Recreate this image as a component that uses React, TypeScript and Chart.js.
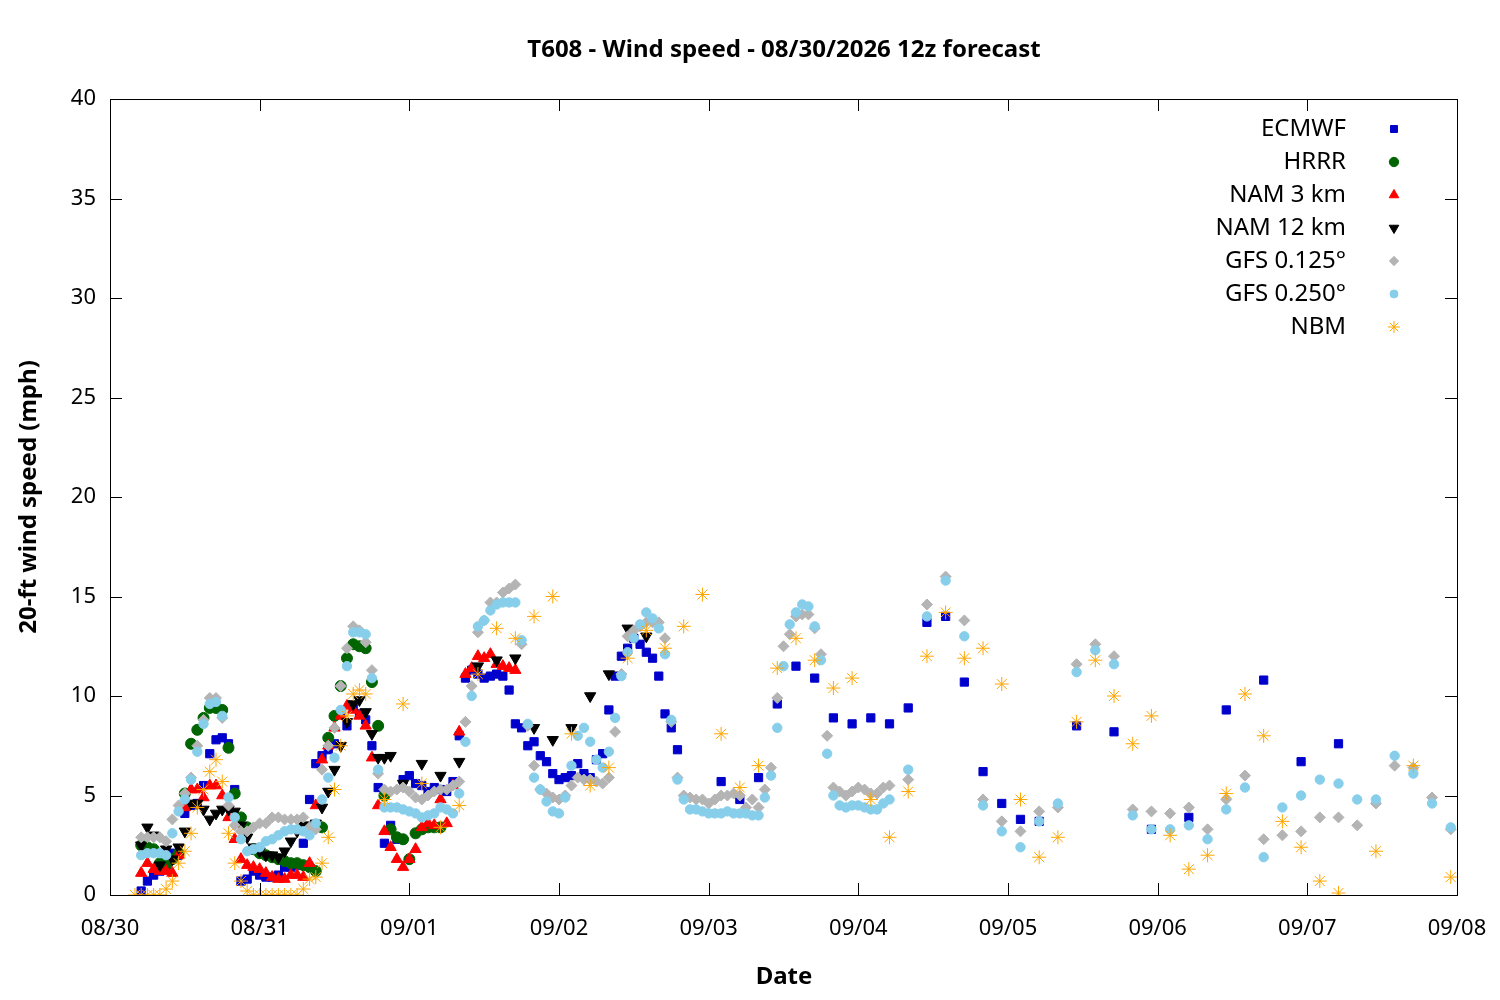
import React, { useEffect, useRef } from "react";
import { Chart, registerables } from "chart.js";
import { drawPoint } from "chart.js/helpers";
Chart.register(...registerables);

const dateLabels = ["08/30", "08/31", "09/01", "09/02", "09/03", "09/04", "09/05", "09/06", "09/07", "09/08"];
const yTicks = [0, 5, 10, 15, 20, 25, 30, 35, 40];

// hours since 08/30 00 for each segment start; values hourly / 3-hourly / 6-hourly
const ecmwfHourly = [0.2,0.7,1.0,1.2,1.5,2.1,2.0,4.1,4.5,4.6,5.5,7.1,7.8,7.9,7.6,5.3,0.7,0.8,1.2,1.0,0.9,0.9,1.0,1.4,1.4,1.5,2.6,4.8,6.6,7.0,7.3,7.6,9.1,8.5,9.4,9.1,8.8,7.5,5.4,2.6,3.5,2.8,5.8,6.0,5.6,5.5,5.2,5.4,5.3,5.2,5.7,8.0,10.9,11.3,11.1,10.9,11.0,11.1,11.0,10.3,8.6,8.4,7.5,7.7,7.0,6.7,6.1,5.8,5.9,6.0,6.6,6.1,5.9,6.8,7.1,9.3,11.0,12.0,12.4,12.9,12.6,12.2,11.9,11.0,9.1,8.4,7.3];
const ecmwf3h = [5.7,4.8,5.9,9.6,11.5,10.9,8.9,8.6,8.9,8.6,9.4,13.7,14.0,10.7,6.2,4.6,3.8,3.7];
const ecmwf6h = [8.5,8.2,3.3,3.9,9.3,10.8,6.7,7.6];

const hrrrHourly = [2.5,2.4,2.3,1.6,1.5,1.8,2.1,5.1,7.6,8.3,8.9,9.4,9.4,9.3,7.4,5.1,3.9,3.4,2.3,2.1,2.0,1.9,1.8,1.7,1.6,1.6,1.5,1.4,1.2,3.4,7.9,9.0,10.5,11.9,12.6,12.5,12.4,10.7,8.5,5.0,3.3,2.9,2.8,1.8,3.1,3.3,3.4,3.4,3.4];

const nam3Hourly = [1.1,1.6,1.3,1.2,1.2,1.1,2.0,4.4,5.3,5.3,4.9,5.5,5.5,5.0,3.9,2.8,1.8,1.5,1.4,1.3,1.1,0.9,0.8,0.8,1.0,1.0,0.9,1.6,4.5,6.8,7.5,8.4,9.0,9.5,9.3,9.0,8.5,6.9,4.5,3.2,2.4,1.8,1.4,1.8,2.3,3.4,3.6,3.5,4.8,3.6,5.5,8.2,11.1,11.4,12.0,11.9,12.1,11.6,11.5,11.4,11.3];

const nam12Hourly = [2.5,3.4,3.0,1.5,2.3,1.8,2.4,3.2,4.6,4.6,4.3,3.8,4.1,4.3,4.3,4.2,3.5,2.9,2.4,2.2,2.0,2.0,1.9,2.2,2.7,3.2,3.5,3.5,3.6,4.4,5.2,6.3,7.5,8.7,9.6,9.8,9.2,8.1,6.9,6.9,7.0];
const nam12_3h = [5.6,6.6,6.0,6.7,11.5,11.8,11.9,8.4,7.8,8.4,10.0,11.1,13.4,13.0];

const gfs125Hourly = [2.9,2.9,2.9,2.9,2.7,3.8,4.5,5.1,5.9,7.5,8.8,9.9,9.9,8.9,4.5,3.5,3.2,3.2,3.4,3.6,3.6,3.9,3.9,3.8,3.8,3.8,3.9,3.4,3.3,6.3,7.5,8.4,10.5,12.4,13.5,13.3,12.7,11.3,6.1,5.3,5.2,5.3,5.4,5.2,4.9,4.8,5.0,5.2,5.3,5.3,5.5,5.7,8.7,10.5,13.2,13.8,14.7,14.7,15.2,15.4,15.6,12.6,8.5,6.5,5.3,5.1,4.9,4.8,5.0,5.5,5.9,5.8,5.8,5.7,5.6,5.9,8.2,11.1,13.0,13.3,13.5,13.7,13.7,13.7,12.9,8.7,5.9,5.0,4.9,4.8,4.8,4.6,4.8,5.0,5.0,5.1,5.0,4.4,4.8,4.4,5.3,6.4,9.9,12.5,13.1,14.0,14.1,14.1,13.4,12.1,8.0,5.4,5.2,5.0,5.2,5.4,5.3,5.1,5.1,5.4,5.5];
const gfs125_3h = [5.8,14.6,16.0,13.8,4.8,3.7,3.2,4.2,4.4,11.6,12.6,12.0,4.3,4.2,4.1,4.4,3.3,4.8,6.0,2.8,3.0,3.2,3.9,3.9,3.5,4.6,6.5,6.4,4.9,3.3];

const gfs250Hourly = [2.0,2.1,2.1,2.1,2.0,3.1,4.2,4.8,5.8,7.2,8.6,9.6,9.7,9.0,4.9,3.9,2.8,2.2,2.3,2.4,2.7,2.8,3.0,3.2,3.3,3.3,3.2,3.0,3.6,4.8,5.9,6.9,9.3,11.5,13.2,13.2,13.1,10.9,6.3,4.4,4.4,4.4,4.3,4.2,4.1,3.9,4.0,4.1,4.4,4.3,4.1,5.1,7.7,10.0,13.5,13.8,14.3,14.6,14.7,14.7,14.7,12.8,8.6,5.9,5.3,4.7,4.2,4.1,4.9,6.5,8.0,8.4,7.7,6.8,6.4,7.2,8.9,11.0,12.2,12.9,13.6,14.2,13.9,13.4,12.1,8.8,5.8,4.8,4.3,4.3,4.2,4.1,4.1,4.1,4.2,4.1,4.1,4.1,4.0,4.0,4.9,6.0,8.4,11.5,13.6,14.2,14.6,14.5,13.5,11.8,7.1,5.0,4.5,4.4,4.5,4.5,4.4,4.3,4.3,4.6,4.8];
const gfs250_3h = [6.3,14.0,15.8,13.0,4.5,3.2,2.4,3.7,4.6,11.2,12.3,11.6,4.0,3.3,3.3,3.5,2.8,4.3,5.4,1.9,4.4,5.0,5.8,5.6,4.8,4.8,7.0,6.1,4.6,3.4];

const nbmHourly = [0,0,0,0,0,0.3,0.7,1.6,2.2,3.1,4.4,5.3,6.2,6.8,5.7,3.1,1.6,0.7,0.2,0,0,0,0,0,0,0,0,0.3,0.8,0.9,1.6,2.9,5.3,7.5,9.0,10.1,10.3,10.1];
const nbm3h = [4.8,9.6,5.6,3.4,4.5,11.1,13.4,12.9,14.0,15.0,8.1,5.5,6.4,11.9,13.3,12.4,13.5,15.1,8.1,5.4,6.5,11.4,12.9,11.8,10.4,10.9,4.8,2.9,5.2,12.0,14.2,11.9,12.4,10.6,4.8,1.9,2.9,8.7,11.8,10.0,7.6,9.0,3.0,1.3,2.0,5.1,10.1,8.0,3.7,2.4,0.7,0.1,null,2.2,null,6.5,null,0.9];

function seg(start: number, step: number, vals: (number | null)[]) {
  return vals.map((v, i) => ({ x: start + i * step, y: v }));
}

const series = [
  { label: "ECMWF", color: "#0000cc", style: "rect", r: 5.8, rot: 0,
    data: [...seg(5, 1, ecmwfHourly), ...seg(98, 3, ecmwf3h), ...seg(155, 6, ecmwf6h)] },
  { label: "HRRR", color: "#006400", style: "circle", r: 5.5, rot: 0, data: seg(5, 1, hrrrHourly) },
  { label: "NAM 3 km", color: "#ff0000", style: "triangle", r: 6.5, rot: 0, data: seg(5, 1, nam3Hourly) },
  { label: "NAM 12 km", color: "#000000", style: "triangle", r: 6.5, rot: 180,
    data: [...seg(5, 1, nam12Hourly), ...seg(47, 3, nam12_3h)] },
  { label: "GFS 0.125°", color: "#b4b4b4", style: "rectRot", r: 5.5, rot: 0,
    data: [...seg(5, 1, gfs125Hourly), ...seg(128, 3, gfs125_3h)] },
  { label: "GFS 0.250°", color: "#87ceeb", style: "circle", r: 4.7, rot: 0,
    data: [...seg(5, 1, gfs250Hourly), ...seg(128, 3, gfs250_3h)] },
  { label: "NBM", color: "#ffa500", style: "star", r: 7, rot: 0,
    data: [...seg(4, 1, nbmHourly), ...seg(44, 3, nbm3h)] },
];

const FONT = "'Noto Sans', 'Open Sans', sans-serif";

const decor = {
  id: "decor",
  afterDraw(chart: any) {
    const { ctx, chartArea: a } = chart;
    ctx.save();
    ctx.strokeStyle = "#000";
    ctx.lineWidth = 1;
    ctx.strokeRect(a.left + 0.5, a.top + 0.5, a.right - a.left, a.bottom - a.top);
    const xs = chart.scales.x, ys = chart.scales.y;
    ctx.beginPath();
    for (let d = 0; d <= 9; d++) {
      const px = Math.round(xs.getPixelForValue(d * 24)) + 0.5;
      ctx.moveTo(px, a.bottom); ctx.lineTo(px, a.bottom - 12);
      ctx.moveTo(px, a.top); ctx.lineTo(px, a.top + 12);
    }
    for (const t of yTicks) {
      const py = Math.round(ys.getPixelForValue(t)) + 0.5;
      ctx.moveTo(a.left, py); ctx.lineTo(a.left + 12, py);
      ctx.moveTo(a.right, py); ctx.lineTo(a.right - 12, py);
    }
    ctx.stroke();
    ctx.fillStyle = "#000";
    ctx.font = `bold 24px ${FONT}`;
    ctx.textAlign = "center";
    ctx.textBaseline = "middle";
    ctx.fillText("T608 - Wind speed - 08/30/2026 12z forecast", 784, 50);
    ctx.fillText("Date", 784, 977);
    ctx.save();
    ctx.translate(29, 497);
    ctx.rotate(-Math.PI / 2);
    ctx.fillText("20-ft wind speed (mph)", 0, 0);
    ctx.restore();
    // legend
    ctx.font = `24px ${FONT}`;
    ctx.textAlign = "right";
    series.forEach((s, i) => {
      const y = 129 + i * 33;
      ctx.fillStyle = "#000";
      ctx.fillText(s.label, 1346, y);
      ctx.fillStyle = s.color;
      ctx.strokeStyle = s.color;
      ctx.lineWidth = 1;
      drawPoint(ctx, { pointStyle: s.style as any, radius: s.r * 0.85, rotation: s.rot, borderWidth: 1 }, 1394, y);
    });
    ctx.restore();
  },
};

export default function App() {
  const ref = useRef<HTMLCanvasElement>(null);
  useEffect(() => {
    const chart = new Chart(ref.current!, {
      type: "scatter",
      data: {
        datasets: series.slice().reverse().map((s) => ({
          label: s.label,
          data: s.data as any,
          pointStyle: s.style as any,
          pointRadius: s.r,
          rotation: s.rot,
          backgroundColor: s.color,
          borderColor: s.color,
          borderWidth: 1,
          showLine: false,
        })),
      },
      options: {
        responsive: false,
        animation: false,
        layout: { padding: { top: 99, right: 43, left: 0, bottom: 0 } },
        plugins: { legend: { display: false }, tooltip: { enabled: false }, title: { display: false } },
        scales: {
          x: {
            type: "linear", min: 0, max: 216,
            afterFit: (sc: any) => { sc.height = 105; sc.paddingLeft = 0; sc.paddingRight = 0; },
            afterBuildTicks: (sc: any) => { sc.ticks = dateLabels.map((_, i) => ({ value: i * 24 })); },
            ticks: { callback: (v: any) => dateLabels[Math.round(v / 24)], font: { size: 22, family: FONT }, color: "#000", padding: 21, maxRotation: 0 },
            grid: { display: false, drawTicks: false },
            border: { display: false },
          },
          y: {
            min: 0, max: 40,
            afterFit: (sc: any) => { sc.width = 110; sc.paddingTop = 0; sc.paddingBottom = 0; },
            afterBuildTicks: (sc: any) => { sc.ticks = yTicks.map((v) => ({ value: v })); },
            ticks: { font: { size: 22, family: FONT }, color: "#000", padding: 14 },
            grid: { display: false, drawTicks: false },
            border: { display: false },
          },
        },
      },
      plugins: [decor],
    });
    return () => chart.destroy();
  }, []);
  return (
    <div style={{ position: "fixed", left: 0, top: 0, width: 1500, height: 1000, background: "#fff" }}>
      <canvas ref={ref} width={1500} height={1000} style={{ width: 1500, height: 1000 }} />
    </div>
  );
}
